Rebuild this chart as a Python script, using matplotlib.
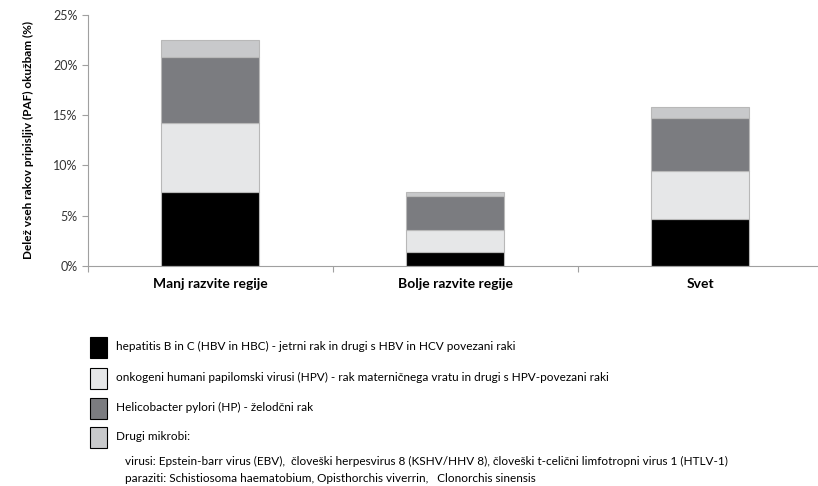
import matplotlib.pyplot as plt
from matplotlib.patches import Rectangle
import numpy as np

plt.rcParams['font.family'] = ['Lato', 'DejaVu Sans']

regije = ['Manj razvite regije', 'Bolje razvite regije', 'Svet']
hbv = [7.3, 1.4, 4.7]
hpv = [6.9, 2.15, 4.75]
hp = [6.6, 3.4, 5.3]
drugi = [1.75, 0.35, 1.05]

legenda = [
    'hepatitis B in C (HBV in HBC) - jetrni rak in drugi s HBV in HCV povezani raki',
    'onkogeni humani papilomski virusi (HPV) - rak materničnega vratu in drugi s HPV-povezani raki',
    'Helicobacter pylori (HP) - želodčni rak',
    'Drugi mikrobi:',
]
pod_vrstice = [
    'virusi: Epstein-barr virus (EBV),  človeški herpesvirus 8 (KSHV/HHV 8), človeški t-celični limfotropni virus 1 (HTLV-1)',
    'paraziti: Schistiosoma haematobium, Opisthorchis viverrin,   Clonorchis sinensis',
]
barve = ['#000000', '#e6e7e8', '#7b7c80', '#c8c9cb']

fig = plt.figure(figsize=(8.18, 4.86), dpi=100)
ax = fig.add_axes([88/818, 1-265.7/486, 1-88/818, (265.7-15)/486])

x = np.arange(len(regije))
spodaj = np.zeros(len(regije))
for vals, c in zip([hbv, hpv, hp, drugi], barve):
    ax.bar(x, vals, width=0.4, bottom=spodaj, color=c, edgecolor='#b8b8b8', linewidth=0.8)
    spodaj += np.array(vals)

ax.set_xlim(-0.5, 2.48)
ax.set_ylim(0, 25)
ax.set_yticks([0, 5, 10, 15, 20, 25])
ax.set_yticklabels(['%d%%' % v for v in [0, 5, 10, 15, 20, 25]], fontsize=9, color='#333333')
ax.set_xticks([-0.5, 0.5, 1.5])
ax.set_xticklabels([])
ax.set_xticks(x, minor=True)
ax.set_xticklabels(regije, minor=True, fontsize=10, fontweight='bold')
ax.tick_params(axis='x', which='minor', length=0, pad=9)
ax.tick_params(axis='x', which='major', length=4, color='#a0a0a0')
ax.tick_params(axis='y', length=4, color='#a0a0a0')
for s in ['top', 'right']:
    ax.spines[s].set_visible(False)
for s in ['left', 'bottom']:
    ax.spines[s].set_color('#a0a0a0')
ax.set_ylabel('Delež vseh rakov pripisljiv (PAF) okužbam (%)', fontsize=8.5, fontweight='bold', labelpad=14)

# legenda spodaj
vrstice_y = [347, 378, 408, 437]
for y, c, t in zip(vrstice_y, barve, legenda):
    fig.patches.append(Rectangle((90/818, 1-(y+10.5)/486), 17/818, 21/486, transform=fig.transFigure,
                                 facecolor=c, edgecolor='#000000', linewidth=0.8))
    fig.text(116/818, 1-(y-1)/486, t, fontsize=8.5, va='center')
for y, t in zip([461, 478], pod_vrstice):
    fig.text(125/818, 1-y/486, t, fontsize=8.5, va='center')

plt.savefig('out.png', dpi=100)
